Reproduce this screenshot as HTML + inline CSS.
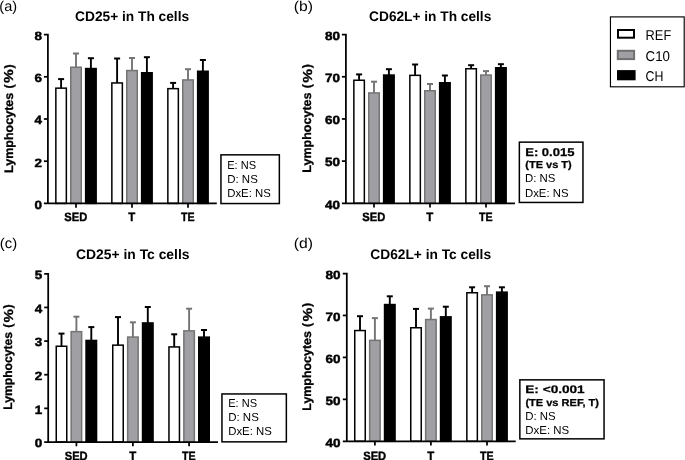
<!DOCTYPE html>
<html><head><meta charset="utf-8"><style>
html,body{margin:0;padding:0;background:#fff;}
svg{display:block;font-family:"Liberation Sans", sans-serif;will-change:transform;text-rendering:geometricPrecision;}
</style></head><body>
<svg width="685" height="460" viewBox="0 0 685 460">
<rect width="685" height="460" fill="#fff"/>
<line x1="61.1" y1="88.4" x2="61.1" y2="79.1" stroke="#000" stroke-width="1.9"/>
<line x1="58.1" y1="79.1" x2="64.1" y2="79.1" stroke="#000" stroke-width="2.0"/>
<rect x="55.85" y="88.15" width="10.5" height="115.25" fill="#fff" stroke="#000" stroke-width="1.5"/>
<line x1="76" y1="67.5" x2="76" y2="53.5" stroke="#747474" stroke-width="1.9"/>
<line x1="73" y1="53.5" x2="79" y2="53.5" stroke="#747474" stroke-width="2.0"/>
<rect x="70.75" y="67.25" width="10.5" height="136.15" fill="#a09fa4" stroke="#747474" stroke-width="1.5"/>
<line x1="90.9" y1="68.8" x2="90.9" y2="58.2" stroke="#000" stroke-width="1.9"/>
<line x1="87.9" y1="58.2" x2="93.9" y2="58.2" stroke="#000" stroke-width="2.0"/>
<rect x="85.65" y="68.55" width="10.5" height="134.85" fill="#000" stroke="#000" stroke-width="1.5"/>
<line x1="117.1" y1="83.2" x2="117.1" y2="58.5" stroke="#000" stroke-width="1.9"/>
<line x1="114.1" y1="58.5" x2="120.1" y2="58.5" stroke="#000" stroke-width="2.0"/>
<rect x="111.85" y="82.95" width="10.5" height="120.45" fill="#fff" stroke="#000" stroke-width="1.5"/>
<line x1="132" y1="70.8" x2="132" y2="58" stroke="#747474" stroke-width="1.9"/>
<line x1="129" y1="58" x2="135" y2="58" stroke="#747474" stroke-width="2.0"/>
<rect x="126.75" y="70.55" width="10.5" height="132.85" fill="#a09fa4" stroke="#747474" stroke-width="1.5"/>
<line x1="146.9" y1="73" x2="146.9" y2="57.2" stroke="#000" stroke-width="1.9"/>
<line x1="143.9" y1="57.2" x2="149.9" y2="57.2" stroke="#000" stroke-width="2.0"/>
<rect x="141.65" y="72.75" width="10.5" height="130.65" fill="#000" stroke="#000" stroke-width="1.5"/>
<line x1="173.1" y1="88.9" x2="173.1" y2="82.9" stroke="#000" stroke-width="1.9"/>
<line x1="170.1" y1="82.9" x2="176.1" y2="82.9" stroke="#000" stroke-width="2.0"/>
<rect x="167.85" y="88.65" width="10.5" height="114.75" fill="#fff" stroke="#000" stroke-width="1.5"/>
<line x1="188" y1="80.2" x2="188" y2="69.2" stroke="#747474" stroke-width="1.9"/>
<line x1="185" y1="69.2" x2="191" y2="69.2" stroke="#747474" stroke-width="2.0"/>
<rect x="182.75" y="79.95" width="10.5" height="123.45" fill="#a09fa4" stroke="#747474" stroke-width="1.5"/>
<line x1="202.9" y1="71.5" x2="202.9" y2="60" stroke="#000" stroke-width="1.9"/>
<line x1="199.9" y1="60" x2="205.9" y2="60" stroke="#000" stroke-width="2.0"/>
<rect x="197.65" y="71.25" width="10.5" height="132.15" fill="#000" stroke="#000" stroke-width="1.5"/>
<path d="M43.9,34.6H47.9V203.4" fill="none" stroke="#000" stroke-width="1.75"/>
<path d="M43.9,203.4H216.8" fill="none" stroke="#000" stroke-width="1.75"/>
<line x1="43.9" y1="161.2" x2="47.9" y2="161.2" stroke="#000" stroke-width="1.75"/>
<line x1="43.9" y1="119" x2="47.9" y2="119" stroke="#000" stroke-width="1.75"/>
<line x1="43.9" y1="76.8" x2="47.9" y2="76.8" stroke="#000" stroke-width="1.75"/>
<line x1="76" y1="203.4" x2="76" y2="207.7" stroke="#000" stroke-width="1.75"/>
<line x1="132" y1="203.4" x2="132" y2="207.7" stroke="#000" stroke-width="1.75"/>
<line x1="188" y1="203.4" x2="188" y2="207.7" stroke="#000" stroke-width="1.75"/>
<text x="42" y="208.75" text-anchor="end" font-weight="bold" font-size="12" stroke="#000" stroke-width="0.45" textLength="7.5" lengthAdjust="spacingAndGlyphs">0</text>
<text x="42" y="166.55" text-anchor="end" font-weight="bold" font-size="12" stroke="#000" stroke-width="0.45" textLength="7.5" lengthAdjust="spacingAndGlyphs">2</text>
<text x="42" y="124.35" text-anchor="end" font-weight="bold" font-size="12" stroke="#000" stroke-width="0.45" textLength="7.5" lengthAdjust="spacingAndGlyphs">4</text>
<text x="42" y="82.15" text-anchor="end" font-weight="bold" font-size="12" stroke="#000" stroke-width="0.45" textLength="7.5" lengthAdjust="spacingAndGlyphs">6</text>
<text x="42" y="39.95" text-anchor="end" font-weight="bold" font-size="12" stroke="#000" stroke-width="0.45" textLength="7.5" lengthAdjust="spacingAndGlyphs">8</text>
<text x="75.8" y="221" text-anchor="middle" font-weight="bold" font-size="12" stroke="#000" stroke-width="0.4" textLength="22.9" lengthAdjust="spacingAndGlyphs">SED</text>
<text x="131.8" y="221" text-anchor="middle" font-weight="bold" font-size="12" stroke="#000" stroke-width="0.4" textLength="7.0" lengthAdjust="spacingAndGlyphs">T</text>
<text x="187.8" y="221" text-anchor="middle" font-weight="bold" font-size="12" stroke="#000" stroke-width="0.4" textLength="13.6" lengthAdjust="spacingAndGlyphs">TE</text>
<text x="75.1" y="20.8" font-weight="bold" font-size="13.8" textLength="114" lengthAdjust="spacingAndGlyphs">CD25+ in Th cells</text>
<text transform="translate(13,172.9) rotate(-90)" x="0" y="0" font-weight="bold" font-size="12.3" stroke="#000" stroke-width="0.3" textLength="80.11" lengthAdjust="spacingAndGlyphs">Lymphocytes</text>
<g transform="translate(13,172.9) rotate(-90)" font-weight="bold" font-size="12.3" stroke="#000" stroke-width="0.3"><text x="84.35" y="0">(</text><text x="89.79" y="0.4" font-size="13" textLength="13.8" lengthAdjust="spacingAndGlyphs">%</text><text x="104.4" y="0">)</text></g>
<text x="-0.7" y="10.6" font-size="14.3" textLength="17.8" lengthAdjust="spacingAndGlyphs">(a)</text>
<line x1="359.1" y1="80.5" x2="359.1" y2="74.4" stroke="#000" stroke-width="1.9"/>
<line x1="356.1" y1="74.4" x2="362.1" y2="74.4" stroke="#000" stroke-width="2.0"/>
<rect x="353.85" y="80.25" width="10.5" height="123.05" fill="#fff" stroke="#000" stroke-width="1.5"/>
<line x1="374" y1="93.2" x2="374" y2="81.7" stroke="#747474" stroke-width="1.9"/>
<line x1="371" y1="81.7" x2="377" y2="81.7" stroke="#747474" stroke-width="2.0"/>
<rect x="368.75" y="92.95" width="10.5" height="110.35" fill="#a09fa4" stroke="#747474" stroke-width="1.5"/>
<line x1="388.9" y1="75.3" x2="388.9" y2="69.2" stroke="#000" stroke-width="1.9"/>
<line x1="385.9" y1="69.2" x2="391.9" y2="69.2" stroke="#000" stroke-width="2.0"/>
<rect x="383.65" y="75.05" width="10.5" height="128.25" fill="#000" stroke="#000" stroke-width="1.5"/>
<line x1="415.1" y1="75.6" x2="415.1" y2="64.5" stroke="#000" stroke-width="1.9"/>
<line x1="412.1" y1="64.5" x2="418.1" y2="64.5" stroke="#000" stroke-width="2.0"/>
<rect x="409.85" y="75.35" width="10.5" height="127.95" fill="#fff" stroke="#000" stroke-width="1.5"/>
<line x1="430" y1="91" x2="430" y2="84" stroke="#747474" stroke-width="1.9"/>
<line x1="427" y1="84" x2="433" y2="84" stroke="#747474" stroke-width="2.0"/>
<rect x="424.75" y="90.75" width="10.5" height="112.55" fill="#a09fa4" stroke="#747474" stroke-width="1.5"/>
<line x1="444.9" y1="83" x2="444.9" y2="75.5" stroke="#000" stroke-width="1.9"/>
<line x1="441.9" y1="75.5" x2="447.9" y2="75.5" stroke="#000" stroke-width="2.0"/>
<rect x="439.65" y="82.75" width="10.5" height="120.55" fill="#000" stroke="#000" stroke-width="1.5"/>
<line x1="471.1" y1="69" x2="471.1" y2="65.2" stroke="#000" stroke-width="1.9"/>
<line x1="468.1" y1="65.2" x2="474.1" y2="65.2" stroke="#000" stroke-width="2.0"/>
<rect x="465.85" y="68.75" width="10.5" height="134.55" fill="#fff" stroke="#000" stroke-width="1.5"/>
<line x1="486" y1="75.3" x2="486" y2="71.1" stroke="#747474" stroke-width="1.9"/>
<line x1="483" y1="71.1" x2="489" y2="71.1" stroke="#747474" stroke-width="2.0"/>
<rect x="480.75" y="75.05" width="10.5" height="128.25" fill="#a09fa4" stroke="#747474" stroke-width="1.5"/>
<line x1="500.9" y1="68" x2="500.9" y2="64.2" stroke="#000" stroke-width="1.9"/>
<line x1="497.9" y1="64.2" x2="503.9" y2="64.2" stroke="#000" stroke-width="2.0"/>
<rect x="495.65" y="67.75" width="10.5" height="135.55" fill="#000" stroke="#000" stroke-width="1.5"/>
<path d="M341.9,34.6H345.9V203.3" fill="none" stroke="#000" stroke-width="1.75"/>
<path d="M341.9,203.3H515" fill="none" stroke="#000" stroke-width="1.75"/>
<line x1="341.9" y1="161.12" x2="345.9" y2="161.12" stroke="#000" stroke-width="1.75"/>
<line x1="341.9" y1="118.95" x2="345.9" y2="118.95" stroke="#000" stroke-width="1.75"/>
<line x1="341.9" y1="76.77" x2="345.9" y2="76.77" stroke="#000" stroke-width="1.75"/>
<line x1="374" y1="203.3" x2="374" y2="207.6" stroke="#000" stroke-width="1.75"/>
<line x1="430" y1="203.3" x2="430" y2="207.6" stroke="#000" stroke-width="1.75"/>
<line x1="486" y1="203.3" x2="486" y2="207.6" stroke="#000" stroke-width="1.75"/>
<text x="340" y="208.65" text-anchor="end" font-weight="bold" font-size="12" stroke="#000" stroke-width="0.45" textLength="15" lengthAdjust="spacingAndGlyphs">40</text>
<text x="340" y="166.48" text-anchor="end" font-weight="bold" font-size="12" stroke="#000" stroke-width="0.45" textLength="15" lengthAdjust="spacingAndGlyphs">50</text>
<text x="340" y="124.3" text-anchor="end" font-weight="bold" font-size="12" stroke="#000" stroke-width="0.45" textLength="15" lengthAdjust="spacingAndGlyphs">60</text>
<text x="340" y="82.12" text-anchor="end" font-weight="bold" font-size="12" stroke="#000" stroke-width="0.45" textLength="15" lengthAdjust="spacingAndGlyphs">70</text>
<text x="340" y="39.95" text-anchor="end" font-weight="bold" font-size="12" stroke="#000" stroke-width="0.45" textLength="15" lengthAdjust="spacingAndGlyphs">80</text>
<text x="373.8" y="221" text-anchor="middle" font-weight="bold" font-size="12" stroke="#000" stroke-width="0.4" textLength="22.9" lengthAdjust="spacingAndGlyphs">SED</text>
<text x="429.8" y="221" text-anchor="middle" font-weight="bold" font-size="12" stroke="#000" stroke-width="0.4" textLength="7.0" lengthAdjust="spacingAndGlyphs">T</text>
<text x="485.8" y="221" text-anchor="middle" font-weight="bold" font-size="12" stroke="#000" stroke-width="0.4" textLength="13.6" lengthAdjust="spacingAndGlyphs">TE</text>
<text x="369.1" y="20.8" font-weight="bold" font-size="13.8" textLength="122.2" lengthAdjust="spacingAndGlyphs">CD62L+ in Th cells</text>
<text transform="translate(311.1,172.7) rotate(-90)" x="0" y="0" font-weight="bold" font-size="12.3" stroke="#000" stroke-width="0.3" textLength="80.19" lengthAdjust="spacingAndGlyphs">Lymphocytes</text>
<g transform="translate(311.1,172.7) rotate(-90)" font-weight="bold" font-size="12.3" stroke="#000" stroke-width="0.3"><text x="84.43" y="0">(</text><text x="89.87" y="0.4" font-size="13" textLength="13.82" lengthAdjust="spacingAndGlyphs">%</text><text x="104.5" y="0">)</text></g>
<text x="293.8" y="10.6" font-size="14.3" textLength="19.2" lengthAdjust="spacingAndGlyphs">(b)</text>
<line x1="61.5" y1="346.5" x2="61.5" y2="333.6" stroke="#000" stroke-width="1.9"/>
<line x1="58.5" y1="333.6" x2="64.5" y2="333.6" stroke="#000" stroke-width="2.0"/>
<rect x="56.25" y="346.25" width="10.5" height="95.75" fill="#fff" stroke="#000" stroke-width="1.5"/>
<line x1="76.4" y1="331.9" x2="76.4" y2="316.7" stroke="#747474" stroke-width="1.9"/>
<line x1="73.4" y1="316.7" x2="79.4" y2="316.7" stroke="#747474" stroke-width="2.0"/>
<rect x="71.15" y="331.65" width="10.5" height="110.35" fill="#a09fa4" stroke="#747474" stroke-width="1.5"/>
<line x1="91.3" y1="340.7" x2="91.3" y2="327.1" stroke="#000" stroke-width="1.9"/>
<line x1="88.3" y1="327.1" x2="94.3" y2="327.1" stroke="#000" stroke-width="2.0"/>
<rect x="86.05" y="340.45" width="10.5" height="101.55" fill="#000" stroke="#000" stroke-width="1.5"/>
<line x1="118" y1="345.4" x2="118" y2="317.1" stroke="#000" stroke-width="1.9"/>
<line x1="115" y1="317.1" x2="121" y2="317.1" stroke="#000" stroke-width="2.0"/>
<rect x="112.75" y="345.15" width="10.5" height="96.85" fill="#fff" stroke="#000" stroke-width="1.5"/>
<line x1="132.9" y1="337.3" x2="132.9" y2="322.3" stroke="#747474" stroke-width="1.9"/>
<line x1="129.9" y1="322.3" x2="135.9" y2="322.3" stroke="#747474" stroke-width="2.0"/>
<rect x="127.65" y="337.05" width="10.5" height="104.95" fill="#a09fa4" stroke="#747474" stroke-width="1.5"/>
<line x1="147.8" y1="323.2" x2="147.8" y2="307" stroke="#000" stroke-width="1.9"/>
<line x1="144.8" y1="307" x2="150.8" y2="307" stroke="#000" stroke-width="2.0"/>
<rect x="142.55" y="322.95" width="10.5" height="119.05" fill="#000" stroke="#000" stroke-width="1.5"/>
<line x1="174.2" y1="347.2" x2="174.2" y2="334.3" stroke="#000" stroke-width="1.9"/>
<line x1="171.2" y1="334.3" x2="177.2" y2="334.3" stroke="#000" stroke-width="2.0"/>
<rect x="168.95" y="346.95" width="10.5" height="95.05" fill="#fff" stroke="#000" stroke-width="1.5"/>
<line x1="189.1" y1="331.1" x2="189.1" y2="308.7" stroke="#747474" stroke-width="1.9"/>
<line x1="186.1" y1="308.7" x2="192.1" y2="308.7" stroke="#747474" stroke-width="2.0"/>
<rect x="183.85" y="330.85" width="10.5" height="111.15" fill="#a09fa4" stroke="#747474" stroke-width="1.5"/>
<line x1="204" y1="337.4" x2="204" y2="330" stroke="#000" stroke-width="1.9"/>
<line x1="201" y1="330" x2="207" y2="330" stroke="#000" stroke-width="2.0"/>
<rect x="198.75" y="337.15" width="10.5" height="104.85" fill="#000" stroke="#000" stroke-width="1.5"/>
<path d="M44.2,273.8H48.2V442" fill="none" stroke="#000" stroke-width="1.75"/>
<path d="M44.2,442H218" fill="none" stroke="#000" stroke-width="1.75"/>
<line x1="44.2" y1="408.36" x2="48.2" y2="408.36" stroke="#000" stroke-width="1.75"/>
<line x1="44.2" y1="374.72" x2="48.2" y2="374.72" stroke="#000" stroke-width="1.75"/>
<line x1="44.2" y1="341.08" x2="48.2" y2="341.08" stroke="#000" stroke-width="1.75"/>
<line x1="44.2" y1="307.44" x2="48.2" y2="307.44" stroke="#000" stroke-width="1.75"/>
<line x1="76.4" y1="442" x2="76.4" y2="446.3" stroke="#000" stroke-width="1.75"/>
<line x1="132.9" y1="442" x2="132.9" y2="446.3" stroke="#000" stroke-width="1.75"/>
<line x1="189.1" y1="442" x2="189.1" y2="446.3" stroke="#000" stroke-width="1.75"/>
<text x="42.3" y="447.35" text-anchor="end" font-weight="bold" font-size="12" stroke="#000" stroke-width="0.45" textLength="7.5" lengthAdjust="spacingAndGlyphs">0</text>
<text x="42.3" y="413.71" text-anchor="end" font-weight="bold" font-size="12" stroke="#000" stroke-width="0.45" textLength="7.5" lengthAdjust="spacingAndGlyphs">1</text>
<text x="42.3" y="380.07" text-anchor="end" font-weight="bold" font-size="12" stroke="#000" stroke-width="0.45" textLength="7.5" lengthAdjust="spacingAndGlyphs">2</text>
<text x="42.3" y="346.43" text-anchor="end" font-weight="bold" font-size="12" stroke="#000" stroke-width="0.45" textLength="7.5" lengthAdjust="spacingAndGlyphs">3</text>
<text x="42.3" y="312.79" text-anchor="end" font-weight="bold" font-size="12" stroke="#000" stroke-width="0.45" textLength="7.5" lengthAdjust="spacingAndGlyphs">4</text>
<text x="42.3" y="279.15" text-anchor="end" font-weight="bold" font-size="12" stroke="#000" stroke-width="0.45" textLength="7.5" lengthAdjust="spacingAndGlyphs">5</text>
<text x="76.2" y="459.7" text-anchor="middle" font-weight="bold" font-size="12" stroke="#000" stroke-width="0.4" textLength="22.9" lengthAdjust="spacingAndGlyphs">SED</text>
<text x="132.7" y="459.7" text-anchor="middle" font-weight="bold" font-size="12" stroke="#000" stroke-width="0.4" textLength="7.0" lengthAdjust="spacingAndGlyphs">T</text>
<text x="188.9" y="459.7" text-anchor="middle" font-weight="bold" font-size="12" stroke="#000" stroke-width="0.4" textLength="13.6" lengthAdjust="spacingAndGlyphs">TE</text>
<text x="76.1" y="259.3" font-weight="bold" font-size="13.8" textLength="113.4" lengthAdjust="spacingAndGlyphs">CD25+ in Tc cells</text>
<text transform="translate(12.3,409.7) rotate(-90)" x="0" y="0" font-weight="bold" font-size="12.3" stroke="#000" stroke-width="0.3" textLength="77.75" lengthAdjust="spacingAndGlyphs">Lymphocytes</text>
<g transform="translate(12.3,409.7) rotate(-90)" font-weight="bold" font-size="12.3" stroke="#000" stroke-width="0.3"><text x="81.87" y="0">(</text><text x="87.14" y="0.4" font-size="13" textLength="13.4" lengthAdjust="spacingAndGlyphs">%</text><text x="101.2" y="0">)</text></g>
<text x="-0.2" y="248" font-size="14.3" textLength="17.4" lengthAdjust="spacingAndGlyphs">(c)</text>
<line x1="360" y1="330.8" x2="360" y2="316.2" stroke="#000" stroke-width="1.9"/>
<line x1="357" y1="316.2" x2="363" y2="316.2" stroke="#000" stroke-width="2.0"/>
<rect x="354.75" y="330.55" width="10.5" height="110.75" fill="#fff" stroke="#000" stroke-width="1.5"/>
<line x1="374.9" y1="340.6" x2="374.9" y2="318.1" stroke="#747474" stroke-width="1.9"/>
<line x1="371.9" y1="318.1" x2="377.9" y2="318.1" stroke="#747474" stroke-width="2.0"/>
<rect x="369.65" y="340.35" width="10.5" height="100.95" fill="#a09fa4" stroke="#747474" stroke-width="1.5"/>
<line x1="389.8" y1="304.8" x2="389.8" y2="296.3" stroke="#000" stroke-width="1.9"/>
<line x1="386.8" y1="296.3" x2="392.8" y2="296.3" stroke="#000" stroke-width="2.0"/>
<rect x="384.55" y="304.55" width="10.5" height="136.75" fill="#000" stroke="#000" stroke-width="1.5"/>
<line x1="416" y1="328" x2="416" y2="308.9" stroke="#000" stroke-width="1.9"/>
<line x1="413" y1="308.9" x2="419" y2="308.9" stroke="#000" stroke-width="2.0"/>
<rect x="410.75" y="327.75" width="10.5" height="113.55" fill="#fff" stroke="#000" stroke-width="1.5"/>
<line x1="430.9" y1="319.8" x2="430.9" y2="308.6" stroke="#747474" stroke-width="1.9"/>
<line x1="427.9" y1="308.6" x2="433.9" y2="308.6" stroke="#747474" stroke-width="2.0"/>
<rect x="425.65" y="319.55" width="10.5" height="121.75" fill="#a09fa4" stroke="#747474" stroke-width="1.5"/>
<line x1="445.8" y1="317.1" x2="445.8" y2="306.7" stroke="#000" stroke-width="1.9"/>
<line x1="442.8" y1="306.7" x2="448.8" y2="306.7" stroke="#000" stroke-width="2.0"/>
<rect x="440.55" y="316.85" width="10.5" height="124.45" fill="#000" stroke="#000" stroke-width="1.5"/>
<line x1="472.1" y1="293" x2="472.1" y2="287.3" stroke="#000" stroke-width="1.9"/>
<line x1="469.1" y1="287.3" x2="475.1" y2="287.3" stroke="#000" stroke-width="2.0"/>
<rect x="466.85" y="292.75" width="10.5" height="148.55" fill="#fff" stroke="#000" stroke-width="1.5"/>
<line x1="487" y1="295.1" x2="487" y2="286.2" stroke="#747474" stroke-width="1.9"/>
<line x1="484" y1="286.2" x2="490" y2="286.2" stroke="#747474" stroke-width="2.0"/>
<rect x="481.75" y="294.85" width="10.5" height="146.45" fill="#a09fa4" stroke="#747474" stroke-width="1.5"/>
<line x1="501.9" y1="292.4" x2="501.9" y2="287.3" stroke="#000" stroke-width="1.9"/>
<line x1="498.9" y1="287.3" x2="504.9" y2="287.3" stroke="#000" stroke-width="2.0"/>
<rect x="496.65" y="292.15" width="10.5" height="149.15" fill="#000" stroke="#000" stroke-width="1.5"/>
<path d="M342.8,273.5H346.8V441.3" fill="none" stroke="#000" stroke-width="1.75"/>
<path d="M342.8,441.3H515.7" fill="none" stroke="#000" stroke-width="1.75"/>
<line x1="342.8" y1="399.35" x2="346.8" y2="399.35" stroke="#000" stroke-width="1.75"/>
<line x1="342.8" y1="357.4" x2="346.8" y2="357.4" stroke="#000" stroke-width="1.75"/>
<line x1="342.8" y1="315.45" x2="346.8" y2="315.45" stroke="#000" stroke-width="1.75"/>
<line x1="374.9" y1="441.3" x2="374.9" y2="445.6" stroke="#000" stroke-width="1.75"/>
<line x1="430.9" y1="441.3" x2="430.9" y2="445.6" stroke="#000" stroke-width="1.75"/>
<line x1="487" y1="441.3" x2="487" y2="445.6" stroke="#000" stroke-width="1.75"/>
<text x="340.6" y="446.65" text-anchor="end" font-weight="bold" font-size="12" stroke="#000" stroke-width="0.45" textLength="15" lengthAdjust="spacingAndGlyphs">40</text>
<text x="340.6" y="404.7" text-anchor="end" font-weight="bold" font-size="12" stroke="#000" stroke-width="0.45" textLength="15" lengthAdjust="spacingAndGlyphs">50</text>
<text x="340.6" y="362.75" text-anchor="end" font-weight="bold" font-size="12" stroke="#000" stroke-width="0.45" textLength="15" lengthAdjust="spacingAndGlyphs">60</text>
<text x="340.6" y="320.8" text-anchor="end" font-weight="bold" font-size="12" stroke="#000" stroke-width="0.45" textLength="15" lengthAdjust="spacingAndGlyphs">70</text>
<text x="340.6" y="278.85" text-anchor="end" font-weight="bold" font-size="12" stroke="#000" stroke-width="0.45" textLength="15" lengthAdjust="spacingAndGlyphs">80</text>
<text x="374.7" y="459.6" text-anchor="middle" font-weight="bold" font-size="12" stroke="#000" stroke-width="0.4" textLength="22.9" lengthAdjust="spacingAndGlyphs">SED</text>
<text x="430.7" y="459.6" text-anchor="middle" font-weight="bold" font-size="12" stroke="#000" stroke-width="0.4" textLength="7.0" lengthAdjust="spacingAndGlyphs">T</text>
<text x="486.8" y="459.6" text-anchor="middle" font-weight="bold" font-size="12" stroke="#000" stroke-width="0.4" textLength="13.6" lengthAdjust="spacingAndGlyphs">TE</text>
<text x="370.3" y="259.1" font-weight="bold" font-size="13.8" textLength="120.8" lengthAdjust="spacingAndGlyphs">CD62L+ in Tc cells</text>
<text transform="translate(311.3,410.7) rotate(-90)" x="0" y="0" font-weight="bold" font-size="12.3" stroke="#000" stroke-width="0.3" textLength="79.52" lengthAdjust="spacingAndGlyphs">Lymphocytes</text>
<g transform="translate(311.3,410.7) rotate(-90)" font-weight="bold" font-size="12.3" stroke="#000" stroke-width="0.3"><text x="83.73" y="0">(</text><text x="89.13" y="0.4" font-size="13" textLength="13.7" lengthAdjust="spacingAndGlyphs">%</text><text x="103.6" y="0">)</text></g>
<text x="293.8" y="248" font-size="14.3" textLength="19.2" lengthAdjust="spacingAndGlyphs">(d)</text>
<rect x="220.95" y="154.85" width="58.4" height="48.7" fill="#fff" stroke="#000" stroke-width="1.5"/>
<text x="227.2" y="168.5" font-size="11.6" textLength="28.8" lengthAdjust="spacingAndGlyphs">E: NS</text>
<text x="227.2" y="182.5" font-size="11.6" textLength="30.6" lengthAdjust="spacingAndGlyphs">D: NS</text>
<text x="227.2" y="196.7" font-size="11.6" textLength="43.6" lengthAdjust="spacingAndGlyphs">DxE: NS</text>
<rect x="221.95" y="393.95" width="64.4" height="47.9" fill="#fff" stroke="#000" stroke-width="1.5"/>
<text x="228.2" y="406.9" font-size="11.6" textLength="28.8" lengthAdjust="spacingAndGlyphs">E: NS</text>
<text x="228.2" y="420.8" font-size="11.6" textLength="30.6" lengthAdjust="spacingAndGlyphs">D: NS</text>
<text x="228.2" y="435.1" font-size="11.6" textLength="43.6" lengthAdjust="spacingAndGlyphs">DxE: NS</text>
<rect x="519.35" y="142.15" width="63.6" height="60.3" fill="#fff" stroke="#000" stroke-width="1.5"/>
<text x="525.2" y="155.8" font-size="11.2" font-weight="bold" stroke="#000" stroke-width="0.25" textLength="49.3" lengthAdjust="spacingAndGlyphs">E: 0.015</text>
<text x="525.3" y="168.3" font-size="10.1" font-weight="bold" stroke="#000" stroke-width="0.25" textLength="46.4" lengthAdjust="spacingAndGlyphs">(TE vs T)</text>
<text x="525" y="182.4" font-size="11.6" textLength="30.4" lengthAdjust="spacingAndGlyphs">D: NS</text>
<text x="525" y="196.7" font-size="11.6" textLength="43.5" lengthAdjust="spacingAndGlyphs">DxE: NS</text>
<rect x="519.85" y="379.85" width="84.2" height="59" fill="#fff" stroke="#000" stroke-width="1.5"/>
<text x="525.3" y="393.0" font-size="10.9" font-weight="bold" stroke="#000" stroke-width="0.25" textLength="59.4" lengthAdjust="spacingAndGlyphs">E: &lt;0.001</text>
<text x="525.4" y="405.6" font-size="10.1" font-weight="bold" stroke="#000" stroke-width="0.25" textLength="73.6" lengthAdjust="spacingAndGlyphs">(TE vs REF, T)</text>
<text x="525.3" y="419.5" font-size="11.6" textLength="30.4" lengthAdjust="spacingAndGlyphs">D: NS</text>
<text x="525.3" y="434.0" font-size="11.6" textLength="43.8" lengthAdjust="spacingAndGlyphs">DxE: NS</text>
<rect x="610.45" y="16.9" width="73.75" height="69.9" fill="#fff" stroke="#000" stroke-width="1.15"/>
<rect x="618" y="30" width="16" height="7.7" fill="#fff" stroke="#000" stroke-width="2"/>
<rect x="617.8" y="50.8" width="16.3" height="8.3" fill="#a09fa4" stroke="#707070" stroke-width="2"/>
<rect x="617" y="70.1" width="18.6" height="10.2" fill="#000"/>
<text x="645.6" y="39.7" font-size="14.2" textLength="25.6" lengthAdjust="spacingAndGlyphs">REF</text>
<text x="645.6" y="61" font-size="14.2" textLength="24.4" lengthAdjust="spacingAndGlyphs">C10</text>
<text x="645.6" y="81" font-size="14.2" textLength="17.9" lengthAdjust="spacingAndGlyphs">CH</text>
</svg>
</body></html>
